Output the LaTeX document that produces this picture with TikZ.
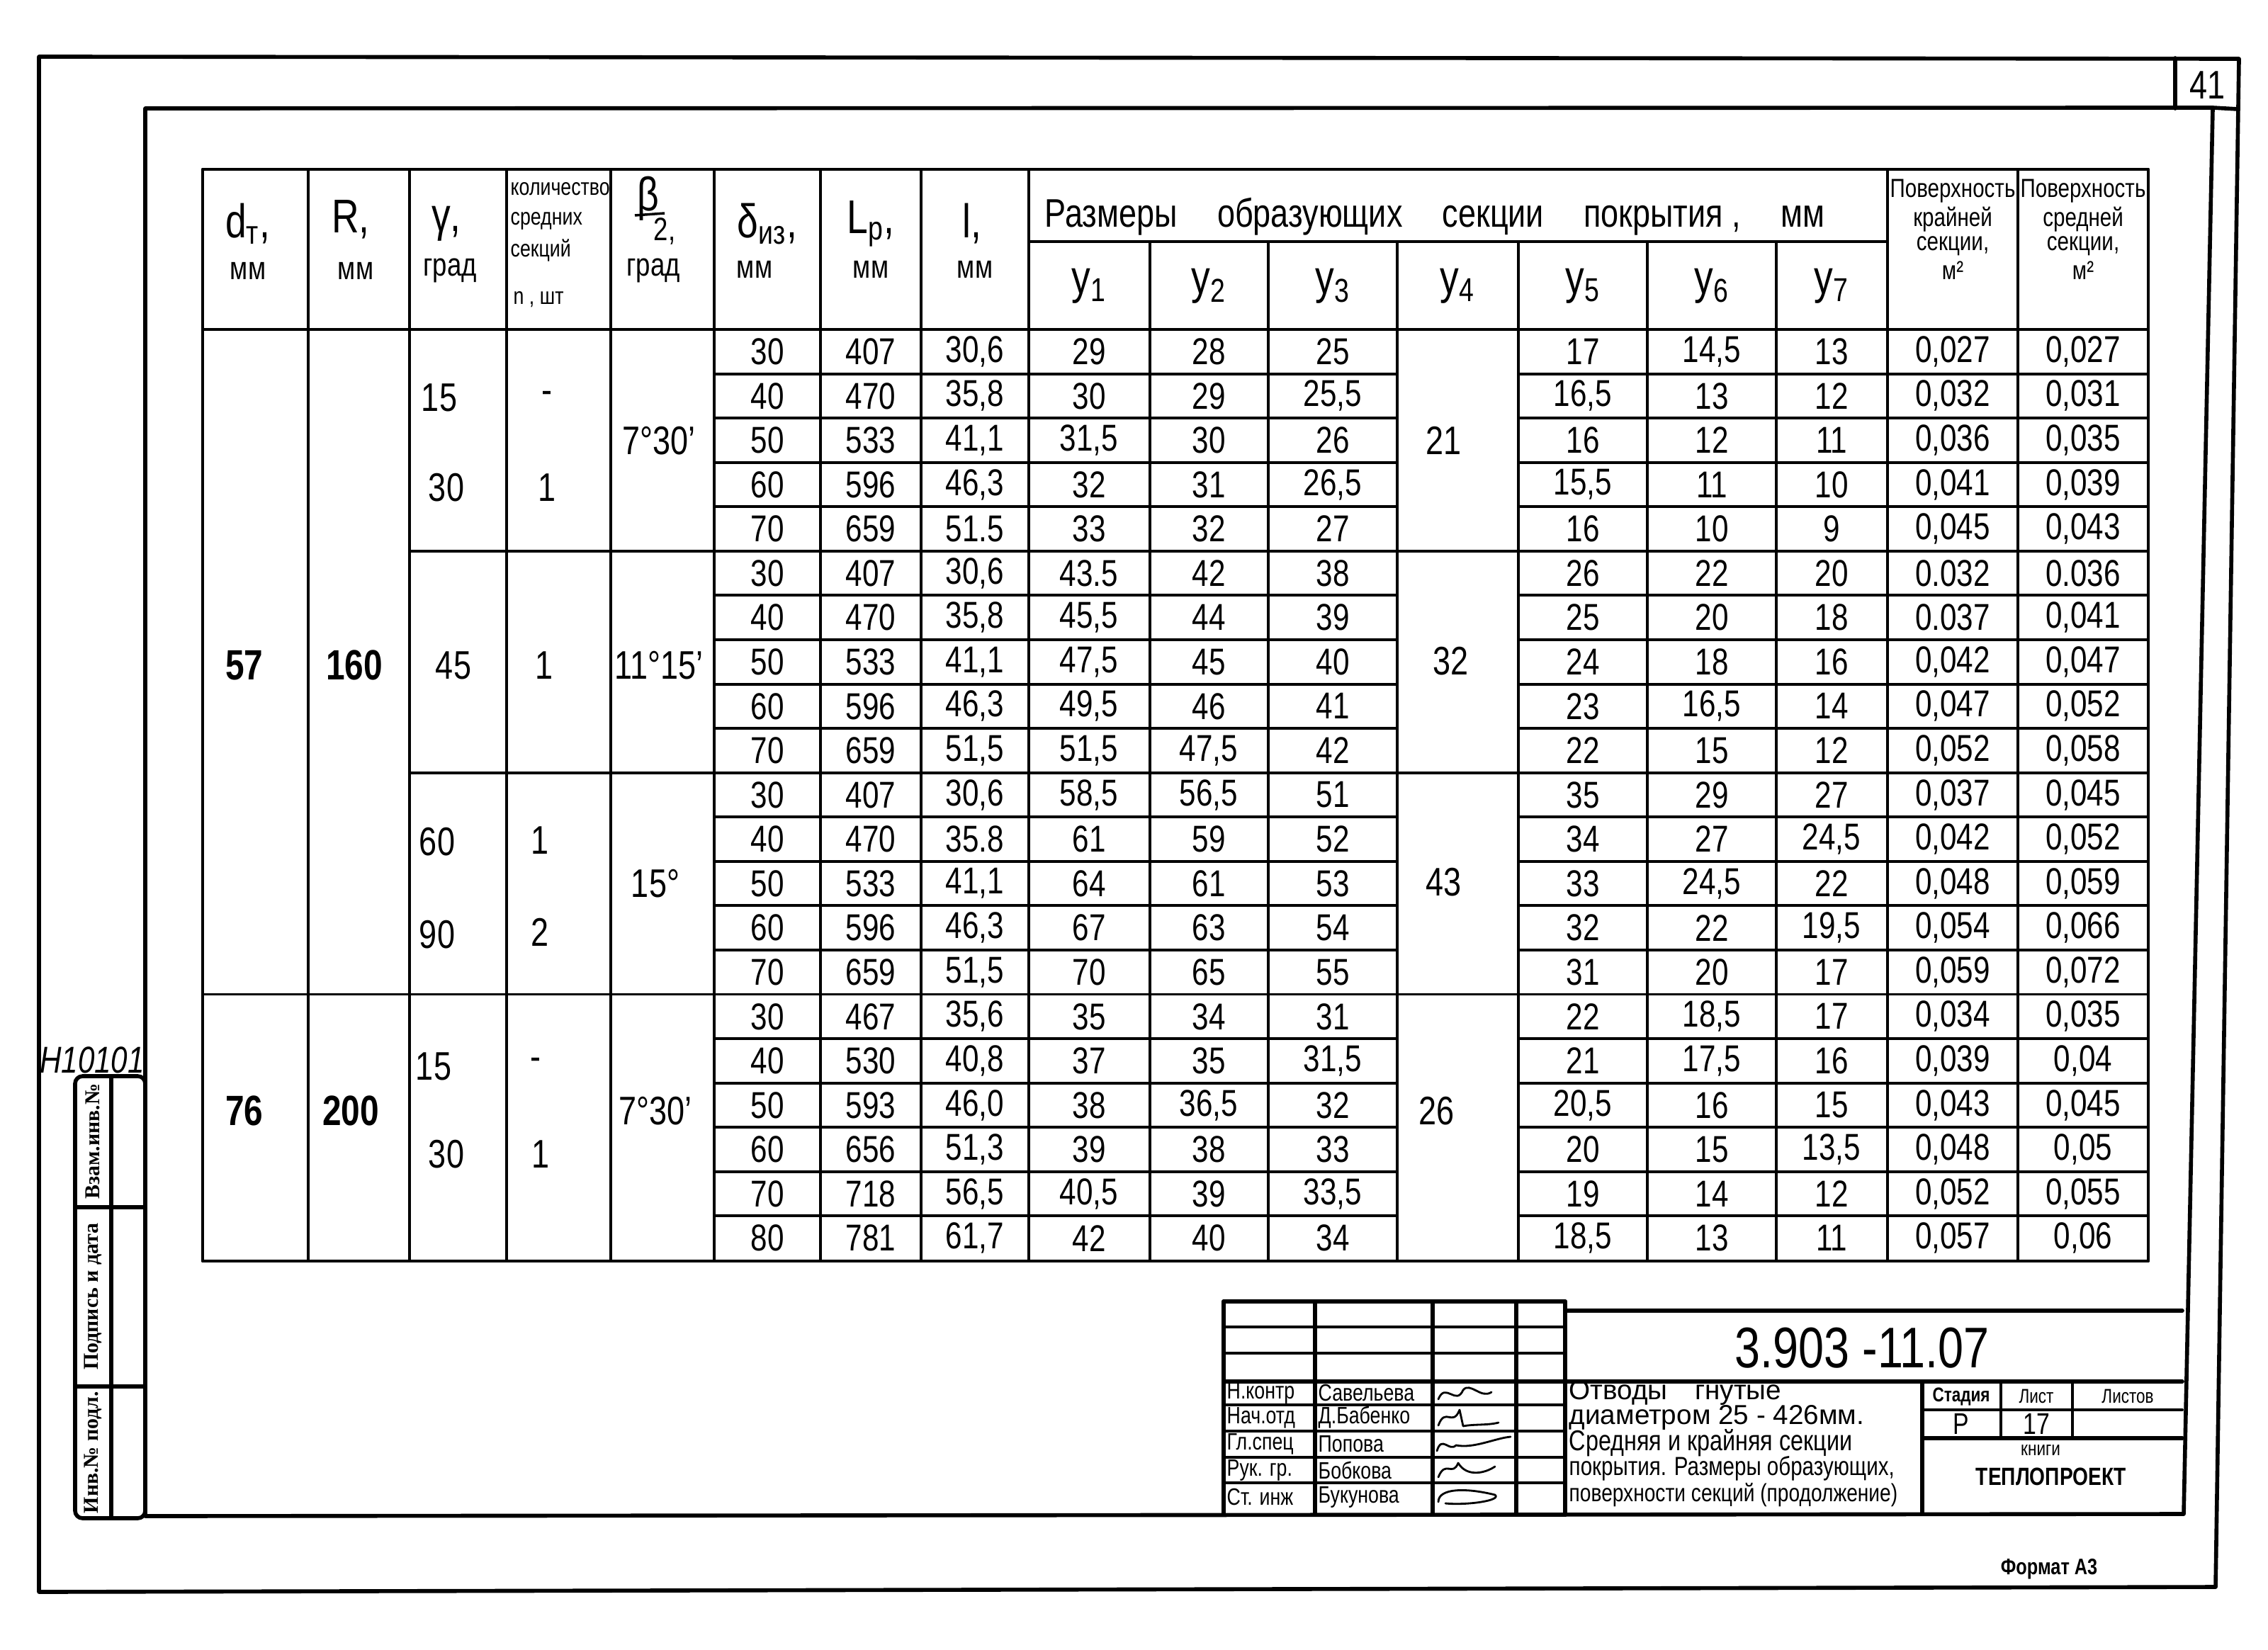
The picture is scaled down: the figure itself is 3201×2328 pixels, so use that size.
\documentclass[tikz,border=0pt]{standalone}
\usepackage{fontspec}
\setmainfont[FakeStretch=0.8]{Liberation Sans}
\newfontfamily\stampfont{Liberation Serif}
\newfontfamily\widefont{Liberation Sans}
\def\colxs{{1083,1229,1376,1537,1706,1881,2234,2416,2585,2756,2940}}
\newcommand\datarow[2]{%
  \foreach \v [count=\j from 0] in {#2} {%
    \pgfmathsetmacro\xx{\colxs[\j]}%
    \pgfmathsetmacro\yy{465+(#1+0.5)*62.57}%
    \node[num] (d#1-\j) at (\xx,\yy) {\v};
  }}
\begin{document}
\begin{tikzpicture}[x=0.01cm,y=-0.01cm,
  frame/.style={line width=1.6pt,line join=round,line cap=round},
  tl/.style={line width=1.1pt,line cap=round},
  num/.style={font=\fontsize{15}{16}\selectfont,inner sep=0pt},
  mid/.style={font=\fontsize{16}{17}\selectfont,inner sep=0pt},
  bignum/.style={font=\bfseries\fontsize{17}{18}\selectfont,inner sep=0pt},
  hdr/.style={font=\fontsize{19}{20}\selectfont,inner sep=0pt},
  unit/.style={font=\fontsize{13}{14}\selectfont,inner sep=0pt},
  cnt/.style={font=\fontsize{9.5}{10}\selectfont,inner sep=0pt,anchor=west},
  surf/.style={font=\fontsize{10.5}{11}\selectfont,inner sep=0pt},
  tb/.style={font=\fontsize{9.5}{10}\selectfont,inner sep=0pt,anchor=west},
  tt/.style={inner sep=0pt,anchor=west},
  stamp/.style={font=\stampfont\bfseries\fontsize{8.5}{9}\selectfont,inner sep=0pt,rotate=90},
  sig/.style={line width=0.8pt,line cap=round,line join=round},
]
\useasboundingbox (0,0) rectangle (3201,2328);

% ---------- frames ----------
\draw[frame] (55,80) -- (3160,83) -- (3127,2240) -- (55,2247) -- cycle;
\draw[frame] (205,153) -- (3123,152) -- (3082,2137) -- (205,2140) -- cycle;
\draw[frame] (3070,82) -- (3070,153);
\draw[frame] (3123,152) -- (3158,154);
\node[font=\fontsize{16}{17}\selectfont,inner sep=0pt] (pg) at (3115,120) {41};

% ---------- left stamp ----------
\draw[frame,rounded corners=3pt] (106,1519) rectangle (205,2143);
\draw[frame] (157,1519) -- (157,2143);
\draw[frame] (106,1704) -- (205,1704);
\draw[frame] (106,1957) -- (205,1957);
\node[stamp] (s1) at (131,1611) {Взам.инв.№};
\node[stamp] (s2) at (131,1830) {Подпись и дата};
\node[stamp] (s3) at (131,2050) {Инв.№ подл.};
\node[font=\itshape\fontsize{15}{16}\selectfont,inner sep=0pt] (hn) at (130,1496) {H10101};

% ---------- table lines ----------
\draw[tl] (286,239) -- (3032,239);
\draw[tl] (1452,341) -- (2664,341);
\draw[tl] (286,465) -- (3032,465);
\draw[tl] (286,1780) -- (3032,1780);
\foreach \x in {286,435,578,715,862,1008,1158,1300,1452,2664,2848,3032}
  \draw[tl] (\x,239) -- (\x,1780);
\foreach \x in {1623,1790,1972,2143,2325,2507}
  \draw[tl] (\x,341) -- (\x,1780);
\foreach \i in {1,2,3,4,6,7,8,9,11,12,13,14,16,17,18,19,20} {
  \pgfmathsetmacro\yy{465+\i*62.57}
  \draw[tl] (1008,\yy) -- (1972,\yy);
  \draw[tl] (2143,\yy) -- (3032,\yy);
}
\foreach \i in {5,10} {
  \pgfmathsetmacro\yy{465+\i*62.57}
  \draw[tl] (578,\yy) -- (3032,\yy);
}
\pgfmathsetmacro\yy{465+15*62.57}
\draw[tl] (286,\yy) -- (3032,\yy);

% ---------- header ----------
\node[hdr] (hd1) at (350,316) {d\textsubscript{т},};
\node[unit] (hd2) at (350,382) {мм};
\node[hdr] (hr1) at (495,310) {R,};
\node[unit] (hr2) at (502,382) {мм};
\node[hdr] (hg1) at (630,316) {γ,};
\node[unit] (hg2) at (635,382) {град};
\node[cnt] (hc1) at (720,267) {количество};
\node[cnt] (hc2) at (720,312) {средних};
\node[cnt] (hc3) at (720,353) {секций};
\node[cnt] (hc4) at (724,423) {n , шт};
\node[hdr] (hb1) at (915,280) {β};
\draw[line width=1pt] (896,304) -- (938,301);
\node[unit] (hb2) at (938,326) {2,};
\node[unit] (hb3) at (922,382) {град};
\node[hdr] (hdl1) at (1083,316) {δ\textsubscript{из},};
\node[unit] (hdl2) at (1065,380) {мм};
\node[hdr] (hl1) at (1229,316) {L\textsubscript{р},};
\node[unit] (hl2) at (1229,380) {мм};
\node[hdr] (hll1) at (1372,316) {l,};
\node[unit] (hll2) at (1376,380) {мм};
\node[font=\fontsize{16}{17}\selectfont,inner sep=0pt,anchor=west] (hsz) at (1474,306)
  {Размеры\quad образующих\quad секции\quad покрытия ,\quad мм};
\foreach \n/\x in {1/1537,2/1706,3/1881,4/2057,5/2234,6/2416,7/2585}
  \node[hdr] (hy\n) at (\x,404) {у\textsubscript{\n}};
\node[surf] (hk1) at (2756,270) {Поверхность};
\node[surf] (hk2) at (2756,310) {крайней};
\node[surf] (hk3) at (2756,347) {секции,};
\node[surf] (hk4) at (2756,382) {м²};
\node[surf] (hm1) at (2940,270) {Поверхность};
\node[surf] (hm2) at (2940,310) {средней};
\node[surf] (hm3) at (2940,347) {секции,};
\node[surf] (hm4) at (2940,382) {м²};

% ---------- merged cells ----------
\node[bignum] (m57) at (345,939) {57};
\node[bignum] (m160) at (500,939) {160};
\node[bignum] (m76) at (345,1568) {76};
\node[bignum] (m200) at (495,1568) {200};
\node[mid] (g1) at (620,561) {15};
\node[mid] (g2) at (630,688) {30};
\node[mid] (g3) at (640,939) {45};
\node[mid] (g4) at (617,1188) {60};
\node[mid] (g5) at (617,1319) {90};
\node[mid] (g6) at (612,1505) {15};
\node[mid] (g7) at (630,1629) {30};
\node[mid] (n1) at (772,561) {-};
\node[mid] (n2) at (772,688) {1};
\node[mid] (n3) at (768,939) {1};
\node[mid] (n4) at (762,1186) {1};
\node[mid] (n5) at (762,1316) {2};
\node[mid] (n6) at (756,1502) {-};
\node[mid] (n7) at (763,1629) {1};
\node[mid] (b1) at (930,622) {7°30'};
\node[mid] (b2) at (930,939) {11°15'};
\node[mid] (b3) at (925,1247) {15°};
\node[mid] (b4) at (925,1568) {7°30'};
\node[mid] (y41) at (2037,622) {21};
\node[mid] (y42) at (2047,933) {32};
\node[mid] (y43) at (2037,1245) {43};
\node[mid] (y44) at (2027,1568) {26};

% ---------- data ----------
\datarow{0}{30,407,{30,6},29,28,25,17,{14,5},13,{0,027},{0,027}}
\datarow{1}{40,470,{35,8},30,29,{25,5},{16,5},13,12,{0,032},{0,031}}
\datarow{2}{50,533,{41,1},{31,5},30,26,16,12,11,{0,036},{0,035}}
\datarow{3}{60,596,{46,3},32,31,{26,5},{15,5},11,10,{0,041},{0,039}}
\datarow{4}{70,659,51.5,33,32,27,16,10,9,{0,045},{0,043}}
\datarow{5}{30,407,{30,6},43.5,42,38,26,22,20,0.032,0.036}
\datarow{6}{40,470,{35,8},{45,5},44,39,25,20,18,0.037,{0,041}}
\datarow{7}{50,533,{41,1},{47,5},45,40,24,18,16,{0,042},{0,047}}
\datarow{8}{60,596,{46,3},{49,5},46,41,23,{16,5},14,{0,047},{0,052}}
\datarow{9}{70,659,{51,5},{51,5},{47,5},42,22,15,12,{0,052},{0,058}}
\datarow{10}{30,407,{30,6},{58,5},{56,5},51,35,29,27,{0,037},{0,045}}
\datarow{11}{40,470,35.8,61,59,52,34,27,{24,5},{0,042},{0,052}}
\datarow{12}{50,533,{41,1},64,61,53,33,{24,5},22,{0,048},{0,059}}
\datarow{13}{60,596,{46,3},67,63,54,32,22,{19,5},{0,054},{0,066}}
\datarow{14}{70,659,{51,5},70,65,55,31,20,17,{0,059},{0,072}}
\datarow{15}{30,467,{35,6},35,34,31,22,{18,5},17,{0,034},{0,035}}
\datarow{16}{40,530,{40,8},37,35,{31,5},21,{17,5},16,{0,039},{0,04}}
\datarow{17}{50,593,{46,0},38,{36,5},32,{20,5},16,15,{0,043},{0,045}}
\datarow{18}{60,656,{51,3},39,38,33,20,15,{13,5},{0,048},{0,05}}
\datarow{19}{70,718,{56,5},{40,5},39,{33,5},19,14,12,{0,052},{0,055}}
\datarow{20}{80,781,{61,7},42,40,34,{18,5},13,11,{0,057},{0,06}}

% ---------- title block ----------
\foreach \x in {1727,1856,2022,2140,2209}
  \draw[frame] (\x,1837) -- (\x,2137);
\draw[frame] (1727,1837) -- (2209,1837);
\draw[frame] (2209,1850) -- (3080,1850);
\foreach \y in {1873,1910,1983,2020,2057,2093}
  \draw[tl] (1727,\y) -- (2209,\y);
\draw[frame] (1727,1950) -- (3080,1950);
\draw[frame] (2713,1950) -- (2713,2137);
\draw[tl] (2713,1990) -- (3080,1990);
\draw[frame] (2713,2030) -- (3080,2030);
\draw[tl] (2824,1950) -- (2824,2030);
\draw[tl] (2925,1950) -- (2925,2030);

\node[font=\fontsize{23}{24}\selectfont,inner sep=0pt] (code) at (2628,1903) {3.903 -11.07};
\node[tb] (p1) at (1731,1966) {Н.контр};
\node[tb] (p2) at (1731,2001) {Нач.отд};
\node[tb] (p3) at (1731,2038) {Гл.спец};
\node[tb] (p4) at (1731,2075) {Рук. гр.};
\node[tb] (p5) at (1731,2113) {Ст. инж};
\node[tb] (f1) at (1860,1966) {Савельева};
\node[tb] (f2) at (1860,2001) {Д.Бабенко};
\node[tb] (f3) at (1860,2038) {Попова};
\node[tb] (f4) at (1860,2075) {Бобкова};
\node[tb] (f5) at (1860,2113) {Букунова};
\draw[sig] (2030,1975) .. controls (2040,1950) and (2055,1985) .. (2065,1962) .. controls (2075,1950) and (2090,1975) .. (2105,1965);
\draw[sig] (2030,2012) .. controls (2040,1985) and (2050,2015) .. (2060,1990) -- (2065,2013) .. controls (2080,2010) and (2100,2012) .. (2115,2008);
\draw[sig] (2028,2048) .. controls (2035,2025) and (2045,2050) .. (2055,2040) .. controls (2080,2045) and (2110,2030) .. (2132,2028);
\draw[sig] (2030,2085) .. controls (2040,2060) and (2050,2085) .. (2058,2065) .. controls (2070,2085) and (2095,2080) .. (2110,2070);
\draw[sig] (2030,2120) .. controls (2030,2100) and (2070,2100) .. (2110,2110) .. controls (2120,2118) and (2070,2125) .. (2040,2122);

\node[tt,font=\widefont\fontsize{11}{12}\selectfont] (t1) at (2214,1966) {Отводы\quad гнутые};
\node[tt,font=\widefont\fontsize{11}{12}\selectfont] (t2) at (2214,2001) {диаметром 25 - 426мм.};
\node[tt,font=\fontsize{11.5}{12}\selectfont] (t3) at (2214,2037) {Средняя и крайняя секции};
\node[tt,font=\fontsize{10.5}{11}\selectfont] (t4) at (2214,2073) {покрытия. Размеры образующих,};
\node[tt,font=\fontsize{10}{11}\selectfont] (t5) at (2214,2110) {поверхности секций (продолжение)};

\node[font=\bfseries\fontsize{8}{9}\selectfont,inner sep=0pt] (st) at (2768,1971) {Стадия};
\node[font=\fontsize{8}{9}\selectfont,inner sep=0pt] (ls) at (2874,1971) {Лист};
\node[font=\fontsize{8}{9}\selectfont,inner sep=0pt] (lss) at (3003,1971) {Листов};
\node[font=\fontsize{12}{13}\selectfont,inner sep=0pt] (stv) at (2768,2010) {Р};
\node[font=\fontsize{12}{13}\selectfont,inner sep=0pt] (lsv) at (2874,2010) {17};
\node[font=\fontsize{8}{9}\selectfont,inner sep=0pt] (kn) at (2880,2047) {книги};
\node[font=\bfseries\fontsize{10}{11}\selectfont,inner sep=0pt] (org) at (2895,2084) {ТЕПЛОПРОЕКТ};

\node[font=\bfseries\fontsize{9}{10}\selectfont,inner sep=0pt] (fmt) at (2892,2215) {Формат А3};
\end{tikzpicture}
\end{document}
